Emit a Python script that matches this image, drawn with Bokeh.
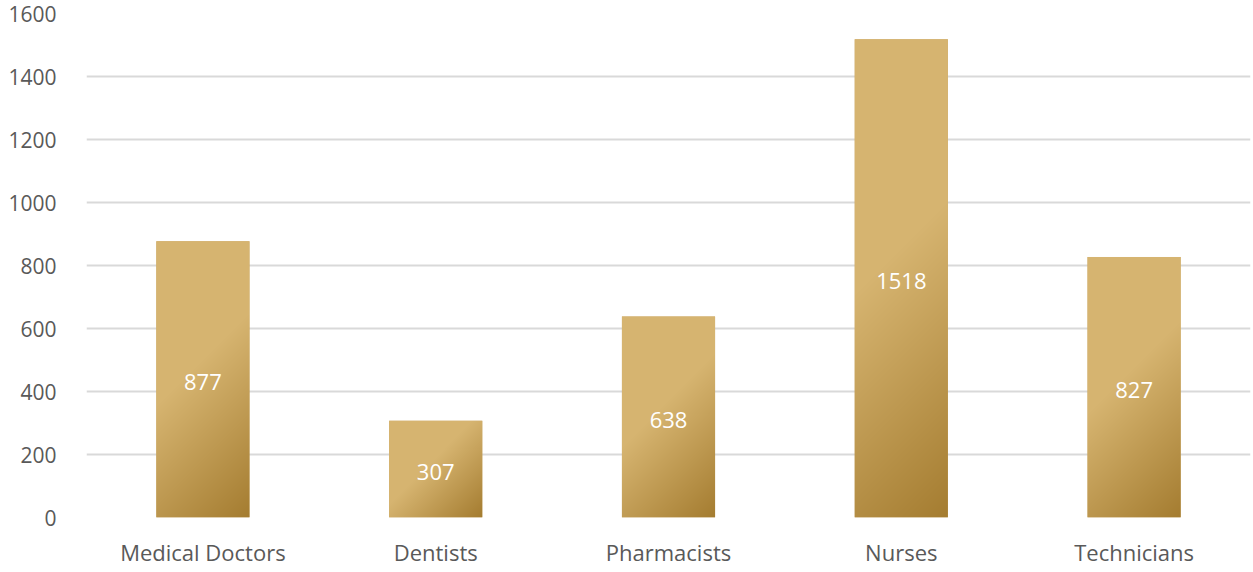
import numpy as np
from bokeh.plotting import figure
from bokeh.models import FixedTicker, ColumnDataSource
from bokeh.core.properties import value
from bokeh.embed import file_html
from bokeh.resources import INLINE

categories = ["Medical Doctors", "Dentists", "Pharmacists", "Nurses", "Technicians"]
counts = [877, 307, 638, 1518, 827]
y_ticks = [0, 200, 400, 600, 800, 1000, 1200, 1400, 1600]

LIGHT = np.array([214, 180, 112], dtype=float)
DARK = np.array([165, 125, 49], dtype=float)
FONT = "Open Sans"

W, H = 1253, 572
p = figure(width=W, height=H, output_backend="svg", toolbar_location=None,
           x_range=(-0.5, len(categories) - 0.5), y_range=(0, 1600),
           min_border_left=86, min_border_right=3, min_border_top=13, min_border_bottom=55)
p.outline_line_color = None
p.background_fill_color = "white"
p.border_fill_color = "white"

xs = list(range(len(categories)))
bar_w = 0.4
src = ColumnDataSource(dict(x=xs, top=counts, mid=[c / 2 for c in counts],
                            label=[str(c) for c in counts]))
p.vbar(x="x", top="top", width=bar_w, bottom=0, source=src,
       fill_color="#C9A560", line_color=None)

# gradient overlay (diagonal, light top-left to dark bottom-right)
frame_h = H - 13 - 55
frame_w = W - 86 - 3
py = frame_h / 1600.0
px = frame_w / len(categories)
imgs, ix, iw, ih = [], [], [], []
for x, c in zip(xs, counts):
    h = max(2, int(round(c * py)))
    w = max(2, int(round(bar_w * px)))
    rows = np.arange(h)[:, None]
    cols = np.arange(w)[None, :]
    yt = (h - 1 - rows)
    t = (cols + yt) / float(w + h - 2)
    s = np.clip((t - 0.45) / 0.55, 0, 1)
    rgb = LIGHT[None, None, :] * (1 - s[..., None]) + DARK[None, None, :] * s[..., None]
    img = np.empty((h, w), dtype=np.uint32)
    view = img.view(dtype=np.uint8).reshape((h, w, 4))
    view[..., :3] = rgb.astype(np.uint8)
    view[..., 3] = 255
    imgs.append(img)
    ix.append(x - bar_w / 2)
    iw.append(bar_w)
    ih.append(c)
p.image_rgba(image=imgs, x=ix, y=[0] * len(xs), dw=iw, dh=ih)

p.text(x="x", y="mid", text="label", source=src, text_color="white",
       text_align="center", text_baseline="middle", text_font=value(FONT),
       text_font_size="22px", y_offset=3)

p.xgrid.grid_line_color = None
p.ygrid.grid_line_color = "#D9D9D9"
p.ygrid.grid_line_width = 2
p.yaxis.ticker = FixedTicker(ticks=y_ticks)
p.xaxis.ticker = FixedTicker(ticks=xs)
p.xaxis.major_label_overrides = {i: c for i, c in zip(xs, categories)}

for ax in (p.xaxis, p.yaxis):
    ax.axis_line_color = None
    ax.major_tick_line_color = None
    ax.minor_tick_line_color = None
    ax.major_label_text_color = "#595959"
    ax.major_label_text_font = FONT
p.xaxis.major_label_text_font_size = "22px"
p.yaxis.major_label_text_font_size = "21px"
p.yaxis.major_label_standoff = 24
p.xaxis.major_label_standoff = 13

open("out.html", "w").write(file_html(p, INLINE))
